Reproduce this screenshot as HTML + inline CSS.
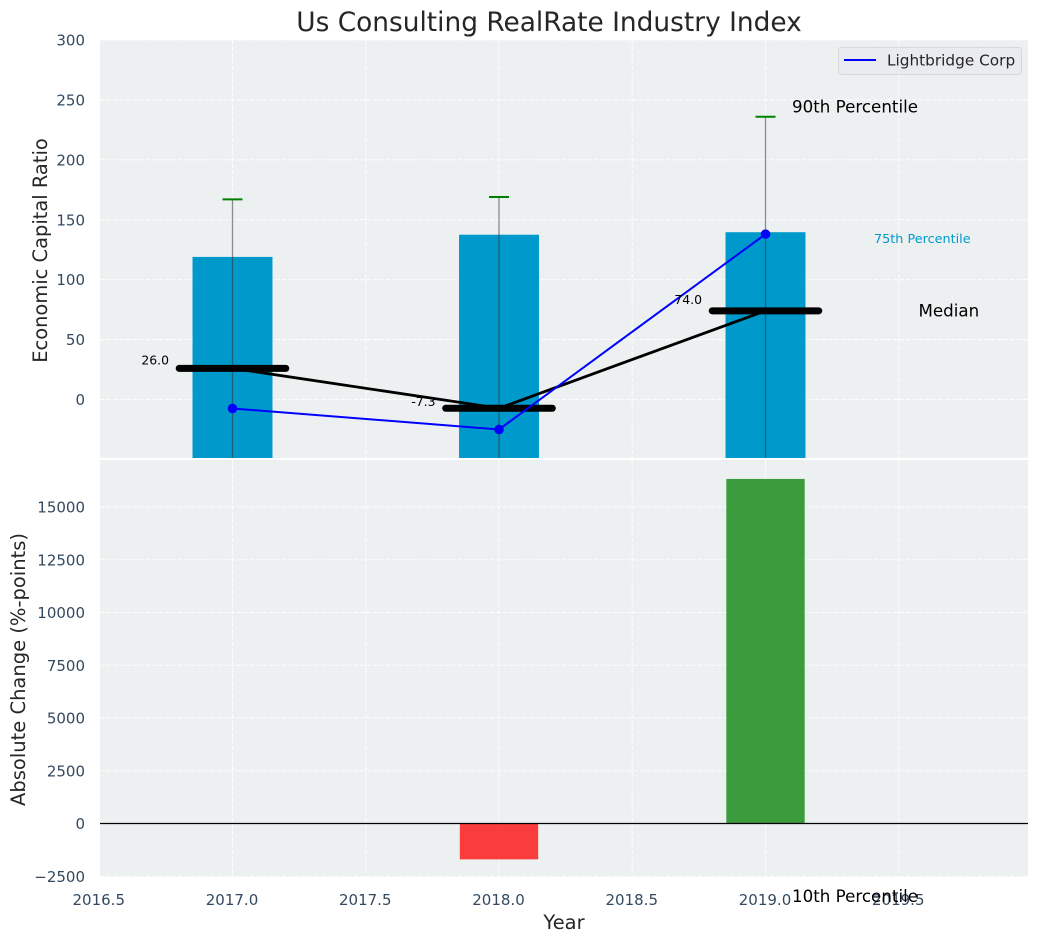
<!DOCTYPE html>
<html>
<head>
<meta charset="utf-8">
<style>
html,body{margin:0;padding:0;background:#fff}
svg{display:block;font-family:"DejaVu Sans","Liberation Sans",sans-serif}
</style>
</head>
<body>
<svg id="chart" width="1039" height="942" viewBox="0 0 1039 942" xmlns="http://www.w3.org/2000/svg">
<defs>
<clipPath id="top-clip"><rect x="100" y="40" width="928" height="418"/></clipPath>
<clipPath id="bottom-clip"><rect x="100" y="460" width="928" height="417"/></clipPath>
</defs>
<rect x="100" y="40" width="928" height="418" fill="#ecf0f1"/>
<rect x="100" y="460" width="928" height="417" fill="#ecf0f1"/>
<g id="grid"></g>
<g id="top" clip-path="url(#top-clip)"></g>
<g id="bottom" clip-path="url(#bottom-clip)"></g>
<g id="ticks"></g>
<g id="notes"></g>
<text x="549" y="31" text-anchor="middle" font-size="26.4" fill="#262626">Us Consulting RealRate Industry Index</text>
<text transform="translate(47,250.5) rotate(-90)" text-anchor="middle" font-size="19.45" fill="#262626">Economic Capital Ratio</text>
<text transform="translate(25,669.5) rotate(-90)" text-anchor="middle" font-size="19.5" fill="#262626">Absolute Change (%-points)</text>
<text x="564" y="929" text-anchor="middle" font-size="19.45" fill="#262626">Year</text>
<g>
<rect x="838.5" y="47.5" width="183" height="27" rx="3" fill="#e9ebf0" stroke="#d6d8dc"/>
<line x1="844" y1="60" x2="876" y2="60" stroke="#0000ff" stroke-width="2"/>
<text x="887" y="65.5" font-size="15.3" fill="#262626">Lightbridge Corp</text>
</g>
</svg>
<script>
const years = [2017, 2018, 2019];
const q25 = [-60, -60, -60];
const q75 = [119, 137.5, 139.6];
const p90 = [167, 169, 236];
const medians = [26.0, -7.3, 74.0];
const medianLabels = ['26.0', '-7.3', '74.0'];
const company = [-7.5, -25, 138];
const changes = [0, -1700, 16330];
const xTicks = [2016.5, 2017, 2017.5, 2018, 2018.5, 2019, 2019.5];
const xTickLabels = ['2016.5', '2017.0', '2017.5', '2018.0', '2018.5', '2019.0', '2019.5'];
const topTicks = [0, 50, 100, 150, 200, 250, 300];
const bottomTicks = [-2500, 0, 2500, 5000, 7500, 10000, 12500, 15000];

const xPos = v => 232.5 + (v - 2017) * 266.5;
const yTop = v => 399.5 - v * 1.1983;
const yBottom = v => 823.5 - v * 0.0211;

const NS = 'http://www.w3.org/2000/svg';
function mk(parent, tag, attrs, text) {
  const el = document.createElementNS(NS, tag);
  for (const k in attrs) el.setAttribute(k, attrs[k]);
  if (text !== undefined) el.textContent = text;
  parent.appendChild(el);
  return el;
}
const grid = document.getElementById('grid');
const topG = document.getElementById('top');
const bottomG = document.getElementById('bottom');
const ticks = document.getElementById('ticks');
const notes = document.getElementById('notes');
const gridStyle = {stroke: '#ffffff', 'stroke-width': 1.1, 'stroke-dasharray': '4.5 2', 'stroke-opacity': 0.85};
const tickFill = '#34495e';
let el;

xTicks.forEach((t, i) => {
  const x = xPos(t);
  el = mk(grid, 'line', {x1: x, x2: x, y1: 40, y2: 458, ...gridStyle});
  
  
  el = mk(grid, 'line', {x1: x, x2: x, y1: 460, y2: 877, ...gridStyle});
  
  
  el = mk(ticks, 'text', {x: x - 0.5, y: 905, 'text-anchor': 'middle', 'font-size': 15, fill: tickFill}, xTickLabels[i]);
  
  
});
topTicks.forEach(t => {
  const y = yTop(t);
  el = mk(grid, 'line', {x1: 100, x2: 1028, y1: y, y2: y, ...gridStyle});
  
  
  el = mk(ticks, 'text', {x: 85, y: y + 5.5, 'text-anchor': 'end', 'font-size': 15, fill: tickFill}, String(t));
  
  
});
bottomTicks.forEach(t => {
  const y = yBottom(t);
  el = mk(grid, 'line', {x1: 100, x2: 1028, y1: y, y2: y, ...gridStyle});
  
  
  el = mk(ticks, 'text', {x: 85, y: y + 5.5, 'text-anchor': 'end', 'font-size': 15, fill: tickFill}, t < 0 ? '\u2212' + Math.abs(t) : String(t));
  
  
});

years.forEach((yr, i) => {
  const a = yTop(q75[i]), b = yTop(q25[i]);
  el = mk(topG, 'rect', {x: xPos(yr - 0.15), y: a, width: xPos(yr + 0.15) - xPos(yr - 0.15), height: b - a, fill: '#0099cc'});
  
  
});
years.forEach((yr, i) => {
  const x = xPos(yr);
  el = mk(topG, 'line', {x1: x, x2: x, y1: yTop(q25[i]), y2: yTop(p90[i]), stroke: '#333333', 'stroke-opacity': 0.55, 'stroke-width': 1.3});
  
  
  el = mk(topG, 'line', {x1: x - 10, x2: x + 10, y1: yTop(p90[i]), y2: yTop(p90[i]), stroke: '#008000', 'stroke-width': 2});
  
  
});
el = mk(topG, 'polyline', {points: years.map((yr, i) => xPos(yr) + ',' + yTop(medians[i])).join(' '), fill: 'none', stroke: '#000000', 'stroke-width': 2.8});


years.forEach((yr, i) => {
  el = mk(topG, 'line', {x1: xPos(yr - 0.2), x2: xPos(yr + 0.2), y1: yTop(medians[i]), y2: yTop(medians[i]), stroke: '#000000', 'stroke-width': 7, 'stroke-linecap': 'round'});
  
  
});
el = mk(topG, 'polyline', {points: years.map((yr, i) => xPos(yr) + ',' + yTop(company[i])).join(' '), fill: 'none', stroke: '#0000ff', 'stroke-width': 2});


years.forEach((yr, i) => {
  el = mk(topG, 'circle', {cx: xPos(yr), cy: yTop(company[i]), r: 4.8, fill: '#0000ff'});
  
  
});
years.forEach((yr, i) => {
  if (changes[i] === 0) return;
  const x0 = xPos(yr - 0.147), x1 = xPos(yr + 0.147);
  const y0 = yBottom(Math.max(changes[i], 0)), y1 = yBottom(Math.min(changes[i], 0));
  el = mk(bottomG, 'rect', {x: x0, y: y0, width: x1 - x0, height: y1 - y0, fill: changes[i] > 0 ? '#008000' : '#ff0000', 'fill-opacity': 0.75});
  
  
});
el = mk(bottomG, 'line', {x1: 100, x2: 1028, y1: yBottom(0), y2: yBottom(0), stroke: '#000000', 'stroke-width': 1.2});



years.forEach((yr, i) => {
  el = mk(notes, 'text', {x: xPos(yr) - 63.5, y: yTop(medians[i]) - 2.5 - 0.06 * medians[i], 'text-anchor': 'end', 'font-size': 12.4, fill: '#000000'}, medianLabels[i]);
  
  
});
const last = years.length - 1;
const lastX = xPos(years[last]);
el = mk(notes, 'text', {x: lastX + 26.5, y: yTop(p90[last]) - 4, 'font-size': 16.7, fill: '#000000'}, '90th Percentile');


el = mk(notes, 'text', {x: lastX + 108.5, y: yTop(q75[last]) + 11, 'font-size': 12.8, fill: '#0099cc'}, '75th Percentile');


el = mk(notes, 'text', {x: lastX + 153, y: yTop(medians[last]) + 5.5, 'font-size': 16.7, fill: '#000000'}, 'Median');


el = mk(notes, 'text', {x: lastX + 26.5, y: 902, 'font-size': 16.7, fill: '#000000'}, '10th Percentile');


</script>
</body>
</html>
